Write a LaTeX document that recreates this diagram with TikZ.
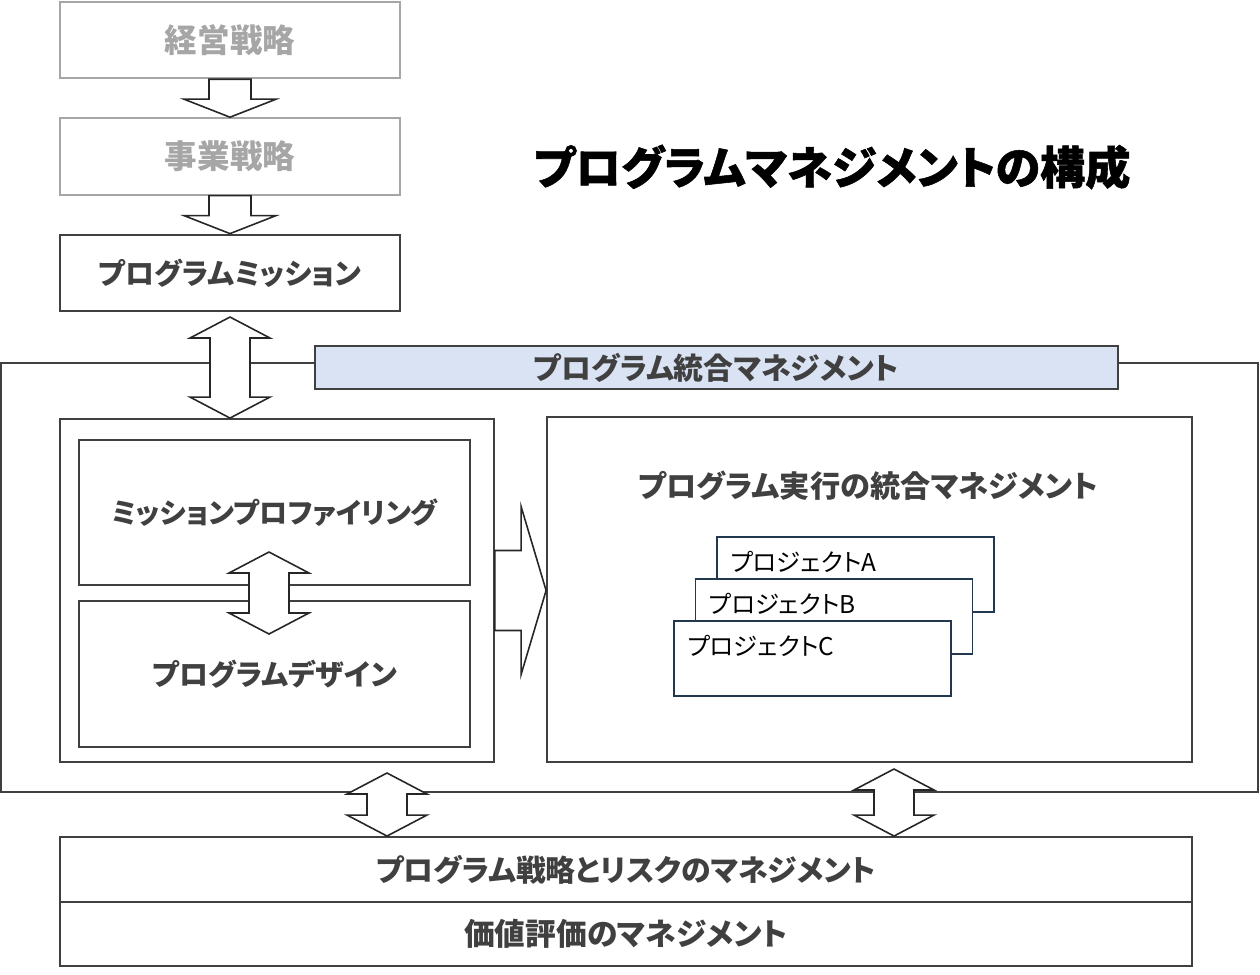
\documentclass[tikz,border=0pt]{standalone}
\usepackage{fontspec}
\setmainfont{Noto Sans CJK JP}[RawFeature=+palt]
\usetikzlibrary{positioning, calc}

\definecolor{darkgr}{HTML}{404040}
\definecolor{lightgr}{HTML}{A6A6A6}
\definecolor{bannerblue}{HTML}{DAE3F3}
\definecolor{projnavy}{HTML}{22384F}

\tikzset{
  box/.style={draw=darkgr, line width=1.1pt, minimum width=6.8cm, minimum height=1.53cm,
    text=darkgr, font=\bfseries\fontsize{16.5}{16.5}\selectfont},
  greybox/.style={box, draw=lightgr, text=lightgr, font=\bfseries\fontsize{18.5}{18.5}\selectfont},
  frame/.style={draw=darkgr, line width=1.1pt, inner sep=0pt},
  banner/.style={box, fill=bannerblue, minimum width=16.06cm, minimum height=0.86cm,
    font=\bfseries\fontsize{17}{17}\selectfont},
  proj/.style={draw=projnavy, line width=1pt, fill=white, minimum width=5.54cm, minimum height=1.5cm},
  projtxt/.style={anchor=west, inner sep=0pt, text=black, font=\fontsize{13.9}{13.9}\selectfont},
  fatdown/.style={draw=black!85, fill=white, line width=0.9pt, to path={
    -- ++(21,0) -- ($(\tikztotarget)+(21,-18)$) -- ++(25,0) -- (\tikztotarget)
    -- ++(-46,-18) -- ++(25,0) -- ($(\tikztostart)+(-21,0)$) -- cycle}},
  fatboth/.style={draw=black!85, fill=white, line width=0.9pt, to path={
    -- ++(40,21) -- ++(-20,0) -- ($(\tikztotarget)+(20,-21)$) -- ++(20,0) -- (\tikztotarget)
    -- ++(-40,-21) -- ++(20,0) -- ($(\tikztostart)+(-20,21)$) -- ++(-20,0) -- cycle}},
  fatright/.style={draw=black!85, fill=white, line width=0.9pt, to path={
    -- ++(0,-40) -- ($(\tikztotarget)+(-25,-40)$) -- ++(0,-44) -- (\tikztotarget)
    -- ++(-25,84) -- ++(0,-44) -- ($(\tikztostart)+(0,40)$) -- cycle}}
}

\begin{document}
\begin{tikzpicture}[x=0.02cm, y=-0.02cm]
\useasboundingbox (0,0) rectangle (1260,974);

% strategy chain on the left
  \node[greybox] (keiei) at (230,40) {経営戦略};
  \node[greybox] (jigyo) [below=0.76cm of keiei] {事業戦略};
  \node[box]     (mission) [below=0.76cm of jigyo] {プログラムミッション};

% title
  \node[font=\bfseries\fontsize{25.7}{25.7}\selectfont\addfontfeatures{FakeBold=1.2}] (title) at (832,167) {プログラムマネジメントの構成};

% integrated management frame
  \node[frame, minimum width=25.14cm, minimum height=8.58cm] (outer) at (629.5,577.5) {};
  \node[banner] (banner) at (716.5,367.5) {プログラム統合マネジメント};
  \node[frame, minimum width=8.68cm, minimum height=6.86cm] (leftbox) at (277,590.5) {};
  \node[box, minimum width=7.82cm, minimum height=2.9cm, font=\bfseries\fontsize{16}{16}\selectfont] (profiling) at (274.5,512.5) {ミッションプロファイリング};
  \node[box, minimum width=7.82cm, minimum height=2.92cm] (design) [below=0.28cm of profiling] {プログラムデザイン};
  \node[frame, minimum width=12.9cm, minimum height=6.9cm] (rightbox) at (869.5,589.5) {};
  \node[text=darkgr, font=\bfseries\fontsize{17.2}{17.2}\selectfont] (exec) at (868,486) {プログラム実行の統合マネジメント};

% the projects, stacked
  \node[proj] (pa) at (855.5,574.5) {};
  \node[projtxt] (pa-t) at ($(pa.north west)+(14,26)$) {プロジェクトA};
  \node[proj] (pb) at ($(pa)+(-21.5,42)$) {};
  \node[projtxt] (pb-t) at ($(pb.north west)+(14,26)$) {プロジェクトB};
  \node[proj] (pc) at ($(pb)+(-21.5,42)$) {};
  \node[projtxt] (pc-t) at ($(pc.north west)+(14,26)$) {プロジェクトC};

% bottom layers
  \node[box, minimum width=22.64cm, minimum height=1.3cm, font=\bfseries\fontsize{17}{17}\selectfont] (strat) at (626,869.5) {プログラム戦略とリスクのマネジメント};
  \node[box, minimum width=22.64cm, minimum height=1.28cm, font=\bfseries\fontsize{17.5}{17.5}\selectfont] (value) at (626,934) {価値評価のマネジメント};

% arrow ends
  \coordinate (ma) at ($(mission.south)+(0,5)$);
  \coordinate (mb) at (mission.south |- leftbox.north);
  \coordinate (pd1) at (269,552);
  \coordinate (pd2) at (269,634);
  \coordinate (ra) at (leftbox.east -| rightbox.west);
  \coordinate (ba1) at (387,773);
  \coordinate (ba2) at (ba1 |- strat.north);
  \coordinate (bb1) at (894,769);
  \coordinate (bb2) at (bb1 |- strat.north);

% block arrows
  \draw[fatdown] (keiei.south) to (jigyo.north);
  \draw[fatdown] (jigyo.south) to (mission.north);
  \draw[fatboth] (ma) to (mb);
  \draw[fatboth] (pd1) to (pd2);
  \draw[fatright] (leftbox.east) to (ra);
  \draw[fatboth] (ba1) to (ba2);
  \draw[fatboth] (bb1) to (bb2);

\end{tikzpicture}
\end{document}
